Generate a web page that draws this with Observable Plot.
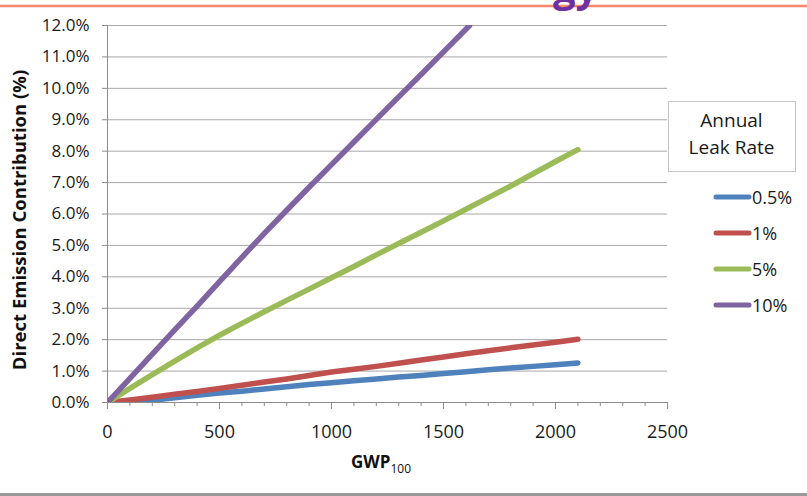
<!DOCTYPE html>
<html>
<head>
<meta charset="utf-8">
<script src="https://cdn.jsdelivr.net/npm/d3@7"></script>
<script src="https://cdn.jsdelivr.net/npm/@observablehq/plot@0.6"></script>
<style>
  html, body { margin: 0; padding: 0; background: #ffffff; }
  #chart { width: 807px; height: 496px; overflow: hidden; position: relative; }
</style>
</head>
<body>
<div id="chart"></div>
<script>
// ---- data ----
const rates = ["0.5%", "1%", "5%", "10%"];
const rateColors = ["#4F81BD", "#C0504D", "#9BBB59", "#8064A2"];
const gwp = [0, 100, 200, 300, 400, 500, 600, 700, 800, 900, 1000, 1100, 1200, 1300, 1400, 1500, 1600, 1700, 1800, 1900, 2000, 2100];
const leak05 = [0, 0.01, 0.07, 0.15, 0.23, 0.30, 0.36, 0.43, 0.50, 0.57, 0.63, 0.69, 0.75, 0.81, 0.86, 0.92, 0.98, 1.04, 1.10, 1.15, 1.20, 1.26];
const leak1  = [0, 0.08, 0.17, 0.26, 0.35, 0.45, 0.55, 0.65, 0.75, 0.86, 0.97, 1.06, 1.15, 1.25, 1.35, 1.45, 1.55, 1.65, 1.74, 1.83, 1.92, 2.01];
const leak5  = [0, 0.45, 0.89, 1.32, 1.74, 2.14, 2.52, 2.89, 3.25, 3.61, 3.97, 4.33, 4.70, 5.06, 5.42, 5.78, 6.15, 6.52, 6.89, 7.28, 7.67, 8.05];
const gwp10  = [0, 100, 200, 300, 400, 500, 600, 700, 800, 900, 1000, 1100, 1200, 1300, 1400, 1500, 1600, 1616];
const leak10 = [0, 0.77, 1.54, 2.31, 3.07, 3.85, 4.62, 5.38, 6.12, 6.85, 7.57, 8.29, 9.01, 9.73, 10.44, 11.16, 11.88, 12.0];
const xTicks = [0, 500, 1000, 1500, 2000, 2500];
const xMinorTicks = d3.range(0, 2501, 100);
const yTicks = [0, 1, 2, 3, 4, 5, 6, 7, 8, 9, 10, 11, 12];
const yTitle = "Direct Emission Contribution (%)";
const legendTitle = ["Annual", "Leak Rate"];

// ---- build table ----
const series = [[gwp, leak05], [gwp, leak1], [gwp, leak5], [gwp10, leak10]];
const rows = [];
series.forEach(([xs, ys], i) => xs.forEach((x, j) => rows.push({rate: rates[i], gwp: x, pct: ys[j]})));

const W = 807, H = 496;
const plot = Plot.plot({
  width: W, height: H,
  marginLeft: 107, marginRight: 140, marginTop: 25, marginBottom: 94,
  style: {fontFamily: "'Open Sans', sans-serif", background: "transparent", overflow: "visible"},
  x: {domain: [0, 2500]},
  y: {domain: [0, 12]},
  color: {domain: rates, range: rateColors},
  marks: [
    Plot.gridY(yTicks, {stroke: "#a8a8a8", strokeOpacity: 1, strokeWidth: 1}),
    Plot.ruleX([0], {stroke: "#8c8c8c", strokeWidth: 1}),
    Plot.ruleY([0], {stroke: "#8c8c8c", strokeWidth: 1}),
    Plot.axisY({ticks: yTicks, tickSize: 5, tickPadding: 13, tickFormat: d => d.toFixed(1) + "%",
      fontSize: 17, stroke: "#8c8c8c", fill: "#1a1a1a", label: null}),
    Plot.axisX({ticks: xMinorTicks, tickSize: 4, tickFormat: () => "", stroke: "#8c8c8c", label: null}),
    Plot.axisX({ticks: xTicks, tickSize: 7, tickPadding: 16, tickFormat: d => String(d), fontSize: 18,
      stroke: "#8c8c8c", fill: "#1a1a1a", label: null}),
    Plot.line(rows, {x: "gwp", y: "pct", z: "rate", stroke: "rate", strokeWidth: 5.5,
      strokeLinecap: "round", strokeLinejoin: "round", clip: true})
  ]
});
document.getElementById("chart").appendChild(plot);

// ---- decorations, titles and legend ----
const svg = d3.select(plot);
svg.append("line").attr("x1", 0).attr("x2", W).attr("y1", 6).attr("y2", 6)
  .attr("stroke", "#F4896B").attr("stroke-width", 2.5);
svg.append("text").attr("x", 553).attr("y", 2).attr("text-anchor", "start")
  .attr("font-size", 40).attr("font-weight", 700).attr("fill", "#7030A0").text("gy");
svg.append("line").attr("x1", 0).attr("x2", W).attr("y1", 494.5).attr("y2", 494.5)
  .attr("stroke", "#9a9a9a").attr("stroke-width", 3);

// y title
svg.append("text").attr("transform", "translate(26,220) rotate(-90)")
  .attr("text-anchor", "middle").attr("font-size", 18.5).attr("font-weight", 700).attr("fill", "#111")
  .text(yTitle);

// x title with subscript
const xt = svg.append("text").attr("x", 351).attr("y", 468).attr("text-anchor", "start")
  .attr("font-weight", 700).attr("font-size", 17).attr("fill", "#111");
xt.append("tspan").text("GWP");
xt.append("tspan").attr("font-size", 12).attr("font-weight", 400).attr("dy", 5).text("100");

// legend
const lg = svg.append("g");
lg.append("rect").attr("x", 668.5).attr("y", 101.5).attr("width", 127).attr("height", 70)
  .attr("fill", "#fff").attr("stroke", "#c4c4c4");
legendTitle.forEach((t, i) => lg.append("text").attr("x", 731.5).attr("y", 127 + i * 27)
  .attr("text-anchor", "middle").attr("font-size", 19).attr("fill", "#1a1a1a").text(t));
rates.forEach((r, i) => {
  const y = 197 + i * 36;
  lg.append("line").attr("x1", 716).attr("x2", 749).attr("y1", y).attr("y2", y)
    .attr("stroke", rateColors[i]).attr("stroke-width", 5).attr("stroke-linecap", "round");
  lg.append("text").attr("x", 752).attr("y", y + 6.5).attr("text-anchor", "start")
    .attr("font-size", 18).attr("fill", "#1a1a1a").text(r);
});
</script>
</body>
</html>
